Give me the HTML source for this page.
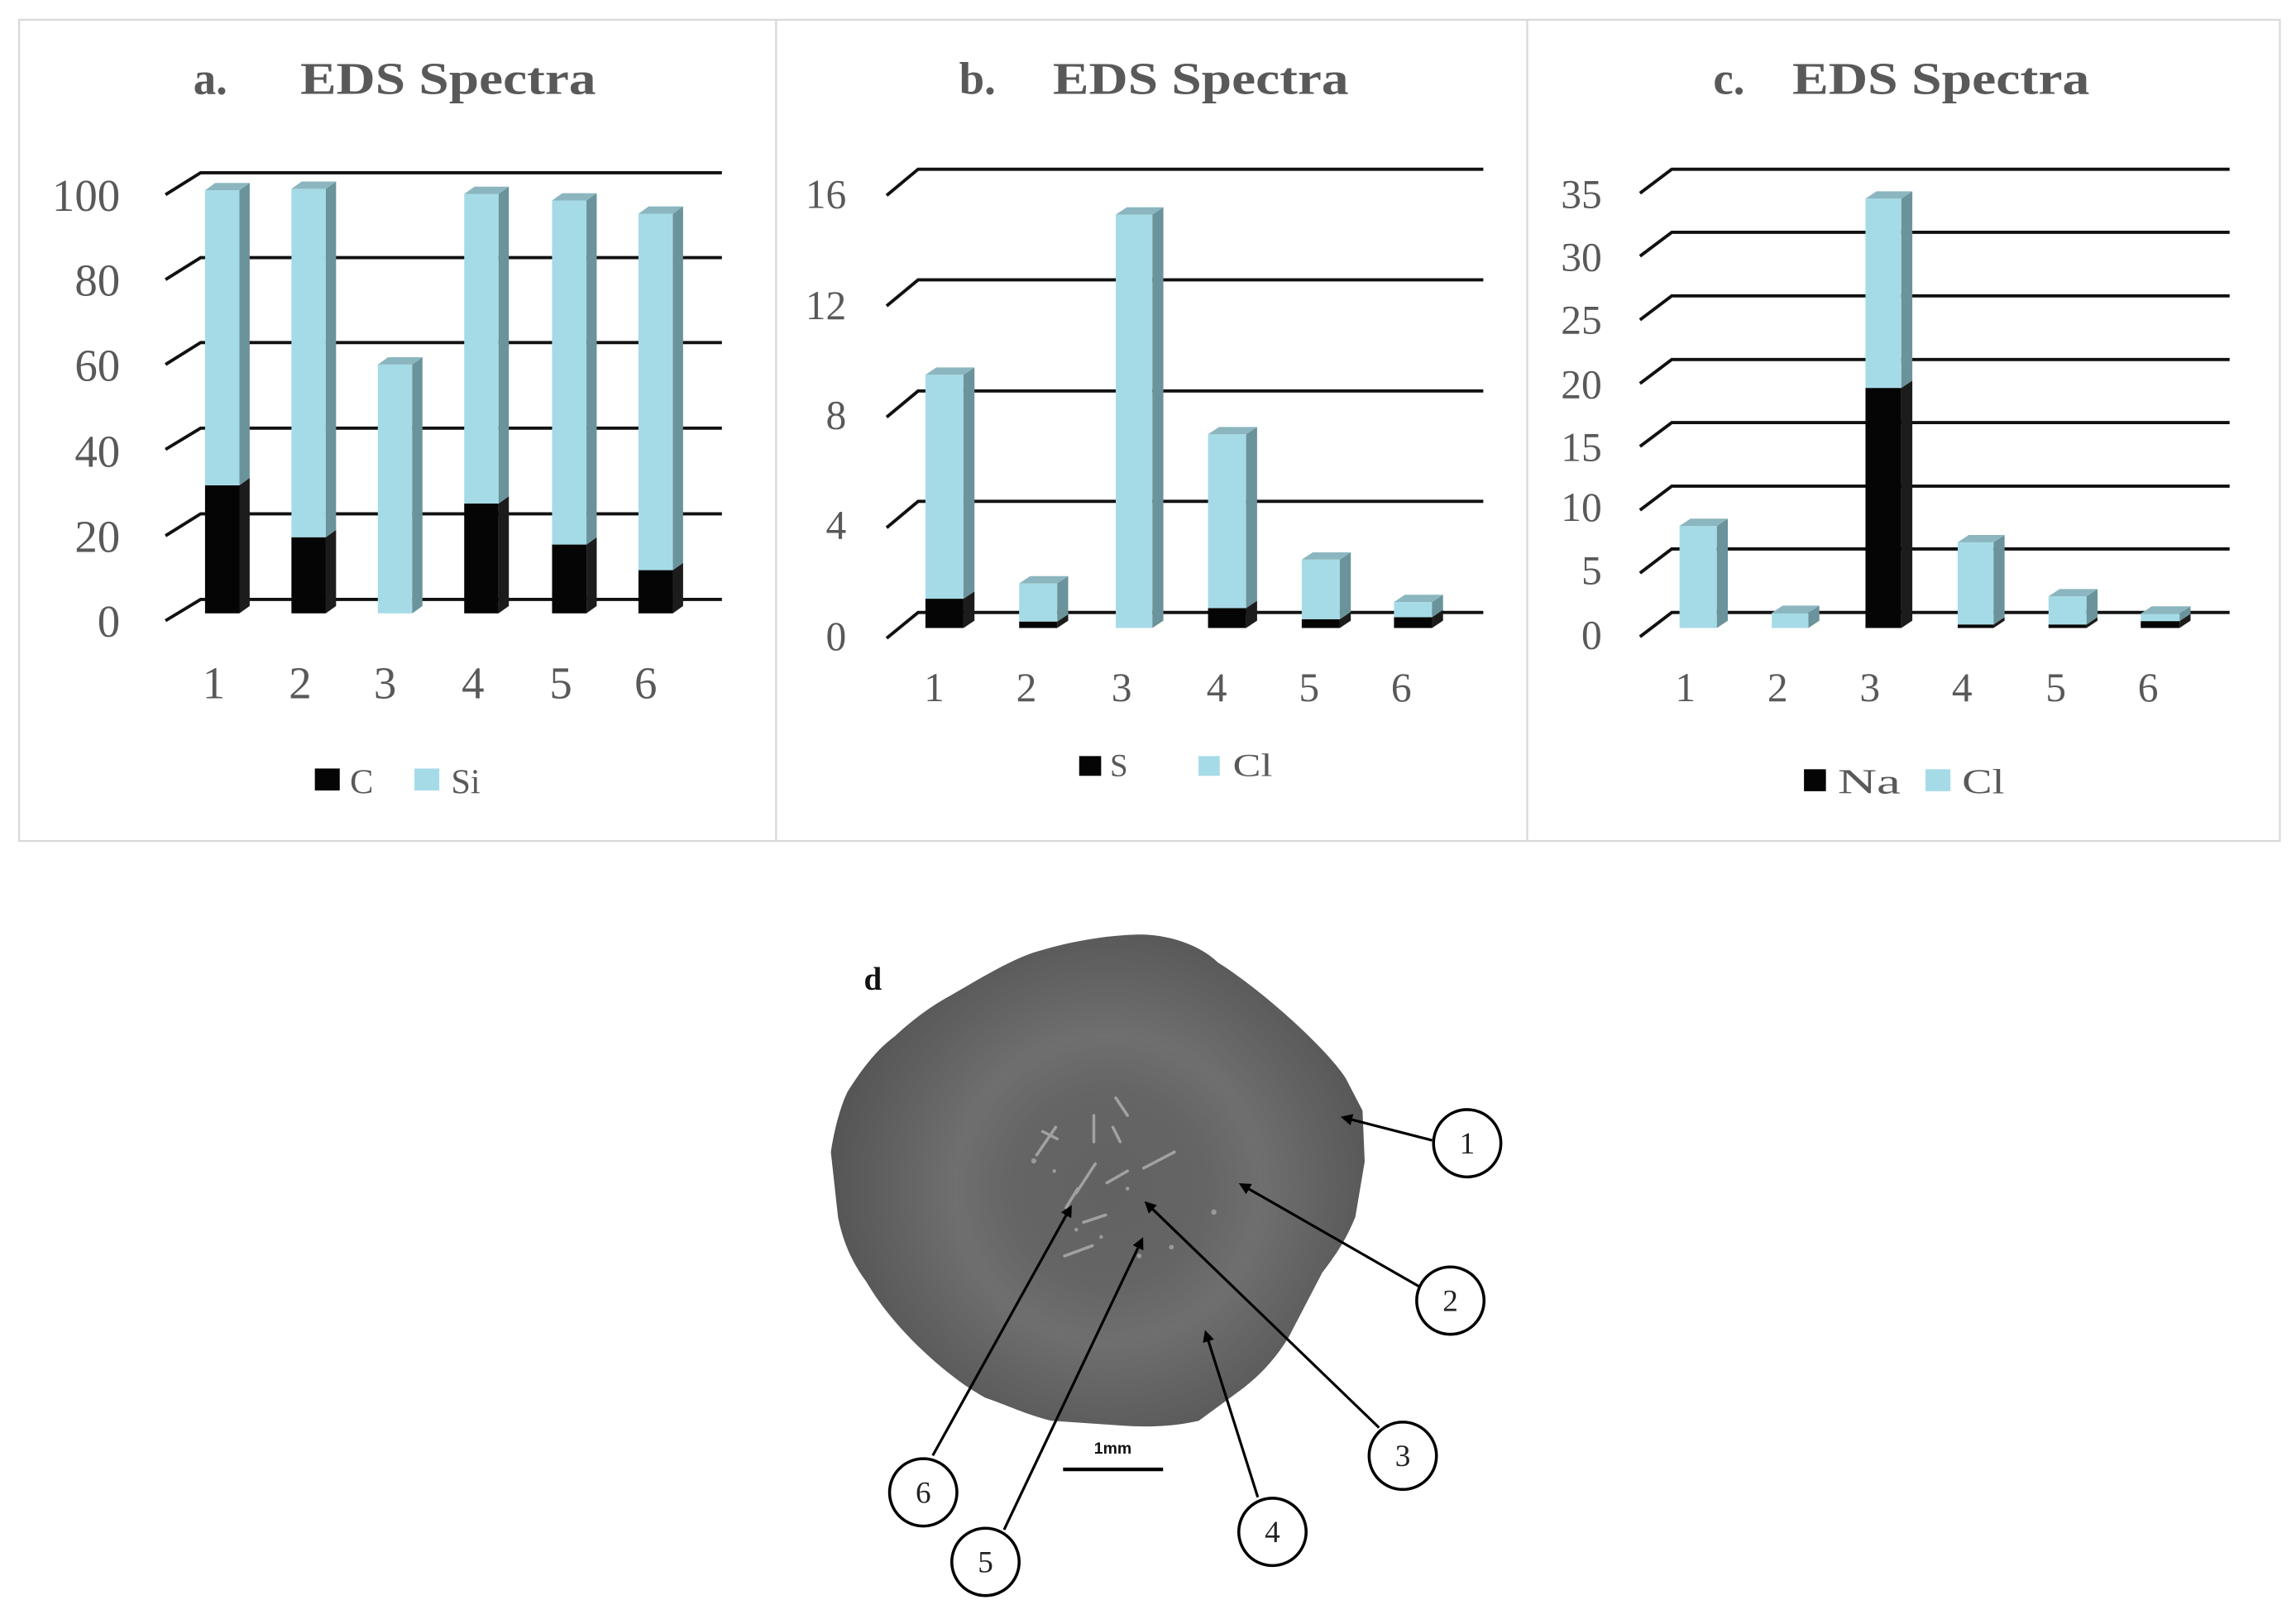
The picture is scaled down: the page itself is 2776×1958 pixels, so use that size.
<!DOCTYPE html>
<html><head><meta charset="utf-8"><style>
html,body{margin:0;padding:0;background:#fff;}
svg{display:block;}
text{font-family:"Liberation Serif",serif;fill:#595959;}
</style></head><body>
<svg width="2776" height="1958" viewBox="0 0 1568 1106" xmlns="http://www.w3.org/2000/svg">
<defs>
<radialGradient id="bg" cx="757" cy="812" r="190" gradientUnits="userSpaceOnUse">
<stop offset="0" stop-color="#626262"/>
<stop offset="0.35" stop-color="#656565"/>
<stop offset="0.55" stop-color="#6f6f6f"/>
<stop offset="0.75" stop-color="#636363"/>
<stop offset="1" stop-color="#555555"/>
</radialGradient>
</defs>
<!-- panel borders -->
<rect x="13" y="13.5" width="1544" height="561" fill="none" stroke="#d9d9d9" stroke-width="1.3"/>
<line x1="530" y1="13.5" x2="530" y2="574.5" stroke="#d9d9d9" stroke-width="1.3"/>
<line x1="1043" y1="13.5" x2="1043" y2="574.5" stroke="#d9d9d9" stroke-width="1.3"/>

<!-- titles -->
<g font-weight="bold" font-size="31">
<text x="132" y="64">a.</text><text x="205" y="64" textLength="202" lengthAdjust="spacingAndGlyphs">EDS Spectra</text>
<text x="655" y="64">b.</text><text x="719" y="64" textLength="202" lengthAdjust="spacingAndGlyphs">EDS Spectra</text>
<text x="1170" y="64">c.</text><text x="1224" y="64" textLength="203" lengthAdjust="spacingAndGlyphs">EDS Spectra</text>
</g>

<!-- ===== Panel a ===== -->
<g stroke="#111" stroke-width="2.2" fill="none">
<path d="M113,133 L137,118 H493"/>
<path d="M113,191 L137,176 H493"/>
<path d="M113,249 L137,234 H493"/>
<path d="M113,307 L137,292.5 H493"/>
<path d="M113,366 L137,351 H493"/>
<path d="M113,424 L137,409.5 H493"/>
</g>
<g font-size="31" text-anchor="end">
<text x="82" y="144">100</text><text x="82" y="202">80</text><text x="82" y="260">60</text>
<text x="82" y="319">40</text><text x="82" y="377">20</text><text x="82" y="435">0</text>
</g>
<g font-size="31" text-anchor="middle">
<text x="146" y="477">1</text><text x="205" y="477">2</text><text x="263" y="477">3</text>
<text x="323" y="477">4</text><text x="383" y="477">5</text><text x="441" y="477">6</text>
</g>
<!-- bars a: w=23.5 d=7 bottom 419 -->
<g>
<!-- bar1 -->
<rect x="140" y="331.5" width="23.5" height="87.5" fill="#050505"/>
<polygon points="163.5,419 170.5,414 170.5,326.5 163.5,331.5" fill="#1c1c1c"/>
<rect x="140" y="130" width="23.5" height="201.5" fill="#a5dbe6"/>
<polygon points="163.5,331.5 170.5,326.5 170.5,125 163.5,130" fill="#6a939b"/>
<polygon points="140,130 147,125 170.5,125 163.5,130" fill="#8cb6bf"/>
<!-- bar2 -->
<rect x="199" y="367" width="23.5" height="52" fill="#050505"/>
<polygon points="222.5,419 229.5,414 229.5,362 222.5,367" fill="#1c1c1c"/>
<rect x="199" y="129" width="23.5" height="238" fill="#a5dbe6"/>
<polygon points="222.5,367 229.5,362 229.5,124 222.5,129" fill="#6a939b"/>
<polygon points="199,129 206,124 229.5,124 222.5,129" fill="#8cb6bf"/>
<!-- bar3 -->
<rect x="258" y="249" width="23.5" height="170" fill="#a5dbe6"/>
<polygon points="281.5,419 288.5,414 288.5,244 281.5,249" fill="#6a939b"/>
<polygon points="258,249 265,244 288.5,244 281.5,249" fill="#8cb6bf"/>
<!-- bar4 -->
<rect x="317" y="344" width="23.5" height="75" fill="#050505"/>
<polygon points="340.5,419 347.5,414 347.5,339 340.5,344" fill="#1c1c1c"/>
<rect x="317" y="132.5" width="23.5" height="211.5" fill="#a5dbe6"/>
<polygon points="340.5,344 347.5,339 347.5,127.5 340.5,132.5" fill="#6a939b"/>
<polygon points="317,132.5 324,127.5 347.5,127.5 340.5,132.5" fill="#8cb6bf"/>
<!-- bar5 -->
<rect x="377" y="372" width="23.5" height="47" fill="#050505"/>
<polygon points="400.5,419 407.5,414 407.5,367 400.5,372" fill="#1c1c1c"/>
<rect x="377" y="137" width="23.5" height="235" fill="#a5dbe6"/>
<polygon points="400.5,372 407.5,367 407.5,132 400.5,137" fill="#6a939b"/>
<polygon points="377,137 384,132 407.5,132 400.5,137" fill="#8cb6bf"/>
<!-- bar6 -->
<rect x="436" y="389.5" width="23.5" height="29.5" fill="#050505"/>
<polygon points="459.5,419 466.5,414 466.5,384.5 459.5,389.5" fill="#1c1c1c"/>
<rect x="436" y="146" width="23.5" height="243.5" fill="#a5dbe6"/>
<polygon points="459.5,389.5 466.5,384.5 466.5,141 459.5,146" fill="#6a939b"/>
<polygon points="436,146 443,141 466.5,141 459.5,146" fill="#8cb6bf"/>
</g>
<rect x="215" y="525" width="17" height="15" fill="#050505"/>
<text x="239" y="542" font-size="24">C</text>
<rect x="283" y="525" width="17" height="15" fill="#a5dbe6"/>
<text x="308" y="542" font-size="24">Si</text>

<!-- ===== Panel b ===== -->
<g stroke="#111" stroke-width="2.2" fill="none">
<path d="M605.5,133.5 L627,115.6 H1013"/>
<path d="M605.5,209 L627,191.2 H1013"/>
<path d="M605.5,285 L627,267.1 H1013"/>
<path d="M605.5,360.5 L627,342.5 H1013"/>
<path d="M605.5,436 L627,418.4 H1013"/>
</g>
<g font-size="28" text-anchor="end">
<text x="578" y="142">16</text><text x="578" y="218">12</text><text x="578" y="293">8</text>
<text x="578" y="368">4</text><text x="578" y="444">0</text>
</g>
<g font-size="28" text-anchor="middle">
<text x="638" y="479">1</text><text x="701" y="479">2</text><text x="766" y="479">3</text>
<text x="831" y="479">4</text><text x="894" y="479">5</text><text x="957" y="479">6</text>
</g>
<g>
<!-- bar1 -->
<rect x="632" y="409" width="26" height="20" fill="#050505"/>
<polygon points="658,429 665.5,424 665.5,404 658,409" fill="#1c1c1c"/>
<rect x="632" y="256" width="26" height="153" fill="#a5dbe6"/>
<polygon points="658,409 665.5,404 665.5,251 658,256" fill="#6a939b"/>
<polygon points="632,256 639.5,251 665.5,251 658,256" fill="#8cb6bf"/>
<!-- bar2 -->
<rect x="696" y="424.6" width="26" height="4.4" fill="#050505"/>
<polygon points="722,429 729.5,424 729.5,419.6 722,424.6" fill="#1c1c1c"/>
<rect x="696" y="398.6" width="26" height="26" fill="#a5dbe6"/>
<polygon points="722,424.6 729.5,419.6 729.5,393.6 722,398.6" fill="#6a939b"/>
<polygon points="696,398.6 703.5,393.6 729.5,393.6 722,398.6" fill="#8cb6bf"/>
<!-- bar3 -->
<rect x="762" y="146.6" width="25" height="282.4" fill="#a5dbe6"/>
<polygon points="787,429 794.5,424 794.5,141.6 787,146.6" fill="#6a939b"/>
<polygon points="762,146.6 769.5,141.6 794.5,141.6 787,146.6" fill="#8cb6bf"/>
<!-- bar4 -->
<rect x="825" y="415.4" width="26" height="13.6" fill="#050505"/>
<polygon points="851,429 858.5,424 858.5,410.4 851,415.4" fill="#1c1c1c"/>
<rect x="825" y="296.7" width="26" height="118.7" fill="#a5dbe6"/>
<polygon points="851,415.4 858.5,410.4 858.5,291.7 851,296.7" fill="#6a939b"/>
<polygon points="825,296.7 832.5,291.7 858.5,291.7 851,296.7" fill="#8cb6bf"/>
<!-- bar5 -->
<rect x="889" y="423" width="26" height="6" fill="#050505"/>
<polygon points="915,429 922.5,424 922.5,418 915,423" fill="#1c1c1c"/>
<rect x="889" y="382.3" width="26" height="40.7" fill="#a5dbe6"/>
<polygon points="915,423 922.5,418 922.5,377.3 915,382.3" fill="#6a939b"/>
<polygon points="889,382.3 896.5,377.3 922.5,377.3 915,382.3" fill="#8cb6bf"/>
<!-- bar6 -->
<rect x="952" y="421.6" width="26" height="7.4" fill="#050505"/>
<polygon points="978,429 985.5,424 985.5,416.6 978,421.6" fill="#1c1c1c"/>
<rect x="952" y="411.3" width="26" height="10.3" fill="#a5dbe6"/>
<polygon points="978,421.6 985.5,416.6 985.5,406.3 978,411.3" fill="#6a939b"/>
<polygon points="952,411.3 959.5,406.3 985.5,406.3 978,411.3" fill="#8cb6bf"/>
</g>
<rect x="737" y="516.5" width="15" height="13.5" fill="#050505"/>
<text x="758" y="530" font-size="22">S</text>
<rect x="818.5" y="516.5" width="14.5" height="13.5" fill="#a5dbe6"/>
<text x="842" y="530" font-size="22" textLength="27" lengthAdjust="spacingAndGlyphs">Cl</text>

<!-- ===== Panel c ===== -->
<g stroke="#111" stroke-width="2.2" fill="none">
<path d="M1120,132 L1141.7,115.6 H1522.7"/>
<path d="M1120,175 L1141.7,158.7 H1522.7"/>
<path d="M1120,218.5 L1141.7,202.1 H1522.7"/>
<path d="M1120,262 L1141.7,245.6 H1522.7"/>
<path d="M1120,305 L1141.7,288.7 H1522.7"/>
<path d="M1120,348.5 L1141.7,332.1 H1522.7"/>
<path d="M1120,391.5 L1141.7,375 H1522.7"/>
<path d="M1120,435 L1141.7,418.4 H1522.7"/>
</g>
<g font-size="28" text-anchor="end">
<text x="1094" y="142">35</text><text x="1094" y="185">30</text><text x="1094" y="228">25</text>
<text x="1094" y="272">20</text><text x="1094" y="315">15</text><text x="1094" y="356">10</text>
<text x="1094" y="399">5</text><text x="1094" y="443">0</text>
</g>
<g font-size="28" text-anchor="middle">
<text x="1151" y="479">1</text><text x="1214" y="479">2</text><text x="1277" y="479">3</text>
<text x="1340" y="479">4</text><text x="1404" y="479">5</text><text x="1467" y="479">6</text>
</g>
<g>
<!-- bar1 -->
<rect x="1147" y="359.3" width="25.5" height="69.7" fill="#a5dbe6"/>
<polygon points="1172.5,429 1180,424 1180,354.3 1172.5,359.3" fill="#6a939b"/>
<polygon points="1147,359.3 1154.5,354.3 1180,354.3 1172.5,359.3" fill="#8cb6bf"/>
<!-- bar2 -->
<rect x="1210" y="418.7" width="25" height="10.3" fill="#a5dbe6"/>
<polygon points="1235,429 1242.5,424 1242.5,413.7 1235,418.7" fill="#6a939b"/>
<polygon points="1210,418.7 1217.5,413.7 1242.5,413.7 1235,418.7" fill="#8cb6bf"/>
<!-- bar3 -->
<rect x="1274" y="265" width="24.5" height="164" fill="#050505"/>
<polygon points="1298.5,429 1306,424 1306,260 1298.5,265" fill="#1c1c1c"/>
<rect x="1274" y="135.7" width="24.5" height="129.3" fill="#a5dbe6"/>
<polygon points="1298.5,265 1306,260 1306,130.7 1298.5,135.7" fill="#6a939b"/>
<polygon points="1274,135.7 1281.5,130.7 1306,130.7 1298.5,135.7" fill="#8cb6bf"/>
<!-- bar4 -->
<rect x="1337" y="426.6" width="24.5" height="2.4" fill="#050505"/>
<polygon points="1361.5,429 1369,424 1369,421.6 1361.5,426.6" fill="#1c1c1c"/>
<rect x="1337" y="370.5" width="24.5" height="56.1" fill="#a5dbe6"/>
<polygon points="1361.5,426.6 1369,421.6 1369,365.5 1361.5,370.5" fill="#6a939b"/>
<polygon points="1337,370.5 1344.5,365.5 1369,365.5 1361.5,370.5" fill="#8cb6bf"/>
<!-- bar5 -->
<rect x="1399" y="426.6" width="26" height="2.4" fill="#050505"/>
<polygon points="1425,429 1432.5,424 1432.5,421.6 1425,426.6" fill="#1c1c1c"/>
<rect x="1399" y="407.4" width="26" height="19.2" fill="#a5dbe6"/>
<polygon points="1425,426.6 1432.5,421.6 1432.5,402.4 1425,407.4" fill="#6a939b"/>
<polygon points="1399,407.4 1406.5,402.4 1432.5,402.4 1425,407.4" fill="#8cb6bf"/>
<!-- bar6 -->
<rect x="1462" y="424.3" width="26.5" height="4.7" fill="#050505"/>
<polygon points="1488.5,429 1496,424 1496,419.3 1488.5,424.3" fill="#1c1c1c"/>
<rect x="1462" y="419.2" width="26.5" height="5.1" fill="#a5dbe6"/>
<polygon points="1488.5,424.3 1496,419.3 1496,414.2 1488.5,419.2" fill="#6a939b"/>
<polygon points="1462,419.2 1469.5,414.2 1496,414.2 1488.5,419.2" fill="#8cb6bf"/>
</g>
<rect x="1232" y="525.5" width="15" height="15" fill="#050505"/>
<text x="1255" y="542" font-size="24" textLength="43" lengthAdjust="spacingAndGlyphs">Na</text>
<rect x="1315" y="525.5" width="17" height="15" fill="#a5dbe6"/>
<text x="1340" y="542" font-size="24" textLength="29" lengthAdjust="spacingAndGlyphs">Cl</text>

<!-- ===== Panel d ===== -->
<text x="590" y="676" font-size="22" font-weight="bold" fill="#111" style="fill:#111">d</text>
<path d="M783,638.5 C805,640 822,648 831.6,657.4 C860,675 905,715 919,736.5 L930.5,758.7 L932,793.5 L925.6,831.4 C918,850 910,860 903,869.4 L880,913.6 C870,930 858,942 844.6,951.6 L818.7,970.6 C800,975 780,975 763.5,973.7 L718,970.6 C700,966 688,960 672.8,954.8 C655,945 640,932 627.4,920 C612,905 600,890 591.7,875.7 C580,860 575,845 572.3,831.4 L567.4,787 C570,770 574,756 578.7,746 C590,728 600,716 611,708 C625,695 638,686 650,679.6 C670,668 688,657 705,651 C730,643 760,638 783,638.5 Z" fill="url(#bg)"/>
<!-- crystals -->
<g stroke="#a8a8a8" stroke-width="2" stroke-linecap="round" fill="none" opacity="0.9">
<line x1="708" y1="789" x2="721" y2="770"/>
<line x1="712" y1="773" x2="722" y2="778"/>
<line x1="781" y1="798" x2="802" y2="787"/>
<line x1="747" y1="762" x2="747" y2="780"/>
<line x1="727" y1="858" x2="746" y2="851"/>
<line x1="735" y1="815" x2="748" y2="795"/>
<line x1="760" y1="770" x2="765" y2="780"/>
<line x1="762" y1="750" x2="770" y2="762"/>
<line x1="740" y1="835" x2="755" y2="830"/>
<line x1="728" y1="825" x2="736" y2="812"/>
<line x1="756" y1="808" x2="770" y2="800"/>
</g>
<g fill="#9a9a9a">
<circle cx="706" cy="793" r="1.8"/><circle cx="778" cy="858" r="1.6"/><circle cx="800" cy="852" r="1.6"/>
<circle cx="829" cy="828" r="1.8"/><circle cx="720" cy="800" r="1.3"/><circle cx="752" cy="845" r="1.3"/>
<circle cx="770" cy="812" r="1.3"/><circle cx="735" cy="840" r="1.3"/>
</g>
<!-- arrows -->
<defs>
<marker id="ah" markerWidth="8" markerHeight="8" refX="6" refY="4" orient="auto" markerUnits="userSpaceOnUse">
<path d="M0,0 L8,4 L0,8 Z" fill="#000"/>
</marker>
</defs>
<g stroke="#000" stroke-width="1.8" marker-end="url(#ah)">
<line x1="978" y1="779" x2="917.5" y2="763.4"/>
<line x1="969.4" y1="879" x2="847.8" y2="809.3"/>
<line x1="941.8" y1="975.3" x2="783" y2="822"/>
<line x1="859" y1="1022.8" x2="823.5" y2="910.5"/>
<line x1="685.7" y1="1045" x2="779.8" y2="847"/>
<line x1="637" y1="994.3" x2="731" y2="825"/>
</g>
<g fill="#fff" stroke="#000" stroke-width="2">
<circle cx="1002" cy="781" r="23"/>
<circle cx="990.5" cy="888.5" r="23"/>
<circle cx="958" cy="994.5" r="23"/>
<circle cx="869" cy="1046.5" r="23"/>
<circle cx="673" cy="1067" r="23"/>
<circle cx="630.5" cy="1019.5" r="23"/>
</g>
<g font-size="21" text-anchor="middle" style="fill:#222">
<text x="1002" y="788" style="fill:#222">1</text>
<text x="990.5" y="895.5" style="fill:#222">2</text>
<text x="958" y="1001.5" style="fill:#222">3</text>
<text x="869" y="1053.5" style="fill:#222">4</text>
<text x="673" y="1074" style="fill:#222">5</text>
<text x="630.5" y="1026.5" style="fill:#222">6</text>
</g>
<line x1="726" y1="1003.8" x2="794.3" y2="1003.8" stroke="#000" stroke-width="2.5"/>
<text x="760" y="993" font-size="11" font-weight="bold" text-anchor="middle" style="fill:#111;font-family:'Liberation Sans',sans-serif">1mm</text>
</svg>
</body></html>
